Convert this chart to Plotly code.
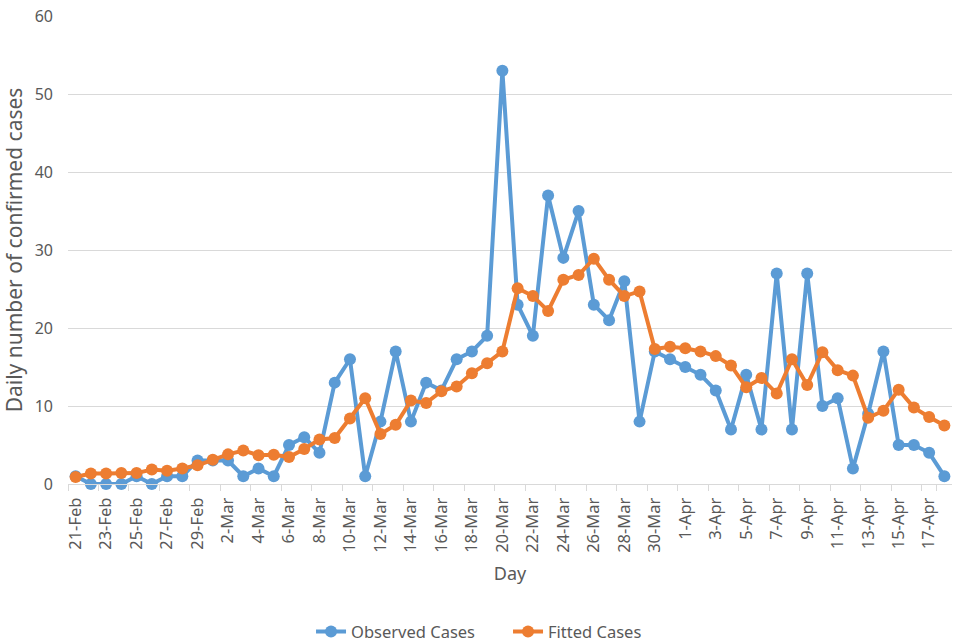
import pandas as pd
import plotly.graph_objects as go

# Dates (2020, leap year) from 21-Feb to 18-Apr
days = [d.strftime('%-d-%b') for d in pd.date_range('2020-02-21', '2020-04-18')]

observed = [1, 0, 0, 0, 1, 0, 1, 1, 3,
            3, 3, 1, 2, 1, 5, 6, 4, 13, 16, 1, 8, 17, 8, 13, 12, 16, 17, 19, 53,
            23, 19, 37, 29, 35, 23, 21, 26, 8, 17, 16,
            15, 14, 12, 7, 14, 7, 27, 7, 27, 10, 11, 2, 9, 17, 5, 5, 4, 1]

fitted = [0.9, 1.35, 1.35, 1.4, 1.4, 1.85, 1.7, 2.0, 2.4,
          3.1, 3.8, 4.3, 3.7, 3.75, 3.45, 4.5, 5.7, 5.9, 8.4, 11.0, 6.4, 7.6, 10.7, 10.4,
          11.9, 12.5, 14.2, 15.5, 17.0, 25.1, 24.1, 22.2, 26.2, 26.8, 28.9, 26.2, 24.1,
          24.7, 17.3, 17.6,
          17.4, 17.0, 16.4, 15.2, 12.4, 13.6, 11.6, 16.0, 12.7, 16.9, 14.6, 13.9, 8.5,
          9.4, 12.1, 9.8, 8.6, 7.5]

y_ticks = [0, 10, 20, 30, 40, 50, 60]

BLUE = '#5B9BD5'
ORANGE = '#ED7D31'
FONT = 'Noto Sans'
GREY_TXT = '#595959'
GRID = '#D9D9D9'

fig = go.Figure()
fig.add_trace(go.Scatter(x=days, y=observed, name='Observed Cases', mode='lines+markers',
                         line=dict(color=BLUE, width=4), marker=dict(size=12, color=BLUE),
                         cliponaxis=False))
fig.add_trace(go.Scatter(x=days, y=fitted, name='Fitted Cases', mode='lines+markers',
                         line=dict(color=ORANGE, width=4), marker=dict(size=12, color=ORANGE),
                         cliponaxis=False))

fig.update_layout(
    width=957, height=642,
    margin=dict(l=68, r=5, t=10, b=158),
    plot_bgcolor='white', paper_bgcolor='white',
    font=dict(family=FONT, size=15, color=GREY_TXT),
    showlegend=True,
    legend=dict(orientation='h', xref='container', x=0.325, xanchor='left',
                yref='container', y=0.016, yanchor='middle',
                entrywidth=152, entrywidthmode='pixels',
                font=dict(size=16.5, color=GREY_TXT)),
)

fig.update_xaxes(
    type='category',
    tickmode='array', tickvals=days[::2], ticktext=days[::2],
    tickangle=-90, tickson='boundaries',
    ticks='outside', ticklen=6, tickcolor=GRID, ticklabelstandoff=6,
    showline=True, linecolor=GRID, linewidth=1,
    showgrid=False,
    range=[-0.5, len(days) - 0.5],
    title=dict(text='Day', font=dict(size=18, color=GREY_TXT), standoff=15),
    tickfont=dict(size=16.5, color=GREY_TXT),
)
fig.update_yaxes(
    range=[0, 60.02], tickmode='array', tickvals=y_ticks,
    showgrid=True, gridcolor=GRID, gridwidth=1,
    zeroline=False, showline=False, ticks='', ticklabelstandoff=14,
    ticklabeloverflow='allow',
    title=dict(text='Daily number of confirmed cases', font=dict(size=21, color=GREY_TXT), standoff=8),
    tickfont=dict(size=16, color=GREY_TXT),
)

# drop the browser's default 8px body margin so the figure sits at the window origin
fig.write_html('out.html', config={'displayModeBar': False},
               post_script="document.body.style.margin='0';")
